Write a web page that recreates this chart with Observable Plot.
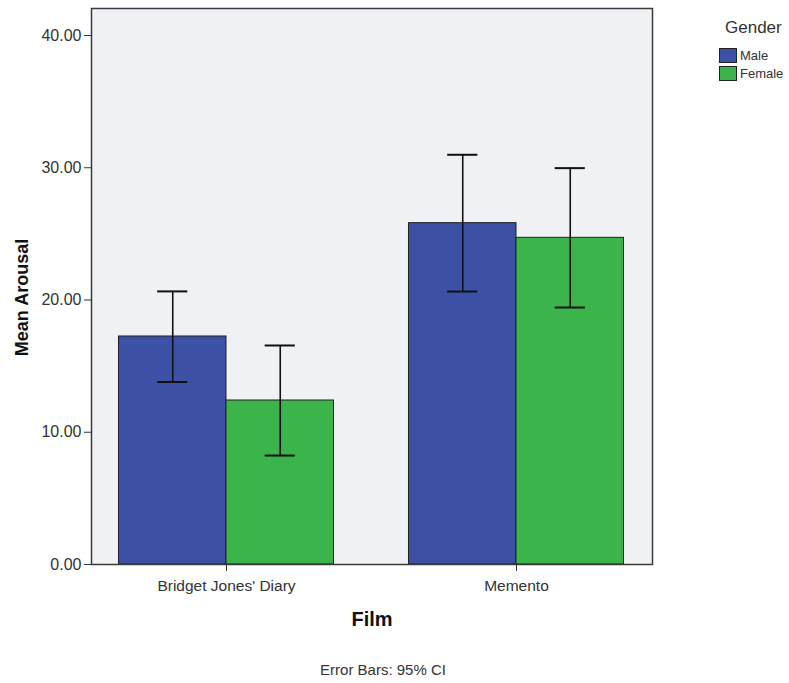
<!DOCTYPE html>
<html>
<head>
<meta charset="utf-8">
<script src="https://cdn.jsdelivr.net/npm/d3@7"></script>
<script src="https://cdn.jsdelivr.net/npm/@observablehq/plot@0.6"></script>
<style>
  html, body { margin: 0; padding: 0; background: #ffffff; }
  #wrap { position: relative; width: 789px; height: 683px; overflow: hidden; }
  #legend { position: absolute; left: 719px; top: 18px; font-family: "Liberation Sans", Arial, sans-serif; color: #333; }
  #legend .title { font-size: 17px; margin-left: 6px; margin-bottom: 8px; }
  #legend .item { display: flex; align-items: center; height: 18px; font-size: 13px; }
  #legend .sw { width: 18px; height: 15px; border: 1px solid #222; margin-right: 3px; box-sizing: border-box; }
</style>
</head>
<body>
<div id="wrap"></div>
<script>
const films = ["Bridget Jones' Diary", "Memento"];
const genders = ["Male", "Female"];
const meanMale = [17.24, 25.81];
const meanFemale = [12.40, 24.70];
const ciLowMale = [13.80, 20.64];
const ciHighMale = [20.65, 30.98];
const ciLowFemale = [8.24, 19.43];
const ciHighFemale = [16.56, 29.97];
const yTicks = [0, 10, 20, 30, 40];
const colors = ["#3c50a6", "#3bb44b"];
const caption = "Error Bars: 95% CI";

const barW = 0.3707;
const capHalf = 0.052;
const rows = [];
films.forEach((f, i) => {
  genders.forEach((g, k) => {
    const x1 = k === 0 ? i - barW : i;
    rows.push({
      film: f, gender: g, x1, x2: x1 + barW, xc: x1 + barW / 2,
      mean: k === 0 ? meanMale[i] : meanFemale[i],
      lo: k === 0 ? ciLowMale[i] : ciLowFemale[i],
      hi: k === 0 ? ciHighMale[i] : ciHighFemale[i]
    });
  });
});
const caps = rows.flatMap(r => [{x1: r.xc - capHalf, x2: r.xc + capHalf, y: r.lo}, {x1: r.xc - capHalf, x2: r.xc + capHalf, y: r.hi}]);

const chart = Plot.plot({
  width: 789,
  height: 683,
  marginLeft: 91,
  marginRight: 137,
  marginTop: 8,
  marginBottom: 119,
  style: {fontFamily: "'Liberation Sans', Arial, sans-serif", fontSize: "14px", color: "#333", background: "transparent"},
  x: {domain: [-0.4655, 1.469], label: null},
  y: {domain: [0, 42.04], label: null},
  color: {domain: genders, range: colors},
  marks: [
    Plot.frame({fill: "#eff1f5", stroke: null}),
    Plot.rectY(rows, {x1: "x1", x2: "x2", y1: 0, y2: "mean", fill: "gender", stroke: "#222", strokeWidth: 1}),
    Plot.ruleX(rows, {x: "xc", y1: "lo", y2: "hi", stroke: "#111", strokeWidth: 1.6}),
    Plot.ruleY(caps, {x1: "x1", x2: "x2", y: "y", stroke: "#111", strokeWidth: 2}),
    Plot.frame({stroke: "#3a3a3a", strokeWidth: 1.5}),
    Plot.axisY({ticks: yTicks, tickFormat: d3.format(".2f"), tickSize: 7, tickPadding: 3, fontSize: 16, label: null}),
    Plot.axisX({ticks: [0, 1], tickFormat: i => films[i], tickSize: 7, tickPadding: 8, fontSize: 15.5, label: null}),
    Plot.text(["Mean Arousal"], {frameAnchor: "left", textAnchor: "middle", dx: -69, dy: 11, rotate: -90, fontSize: 18, fontWeight: "bold", fill: "#111"}),
    Plot.text(["Film"], {frameAnchor: "bottom", dy: 61, fontSize: 20, fontWeight: "bold", fill: "#111"}),
    Plot.text([caption], {frameAnchor: "bottom", dy: 110, dx: 11, fontSize: 15, fill: "#333"})
  ]
});
const wrap = document.getElementById("wrap");
wrap.appendChild(chart);
const legend = document.createElement("div");
legend.id = "legend";
legend.innerHTML = `<div class="title">Gender</div>` + genders.map((g, k) =>
  `<div class="item"><div class="sw" style="background:${colors[k]}"></div><span>${g}</span></div>`).join("");
wrap.appendChild(legend);
</script>
</body>
</html>
